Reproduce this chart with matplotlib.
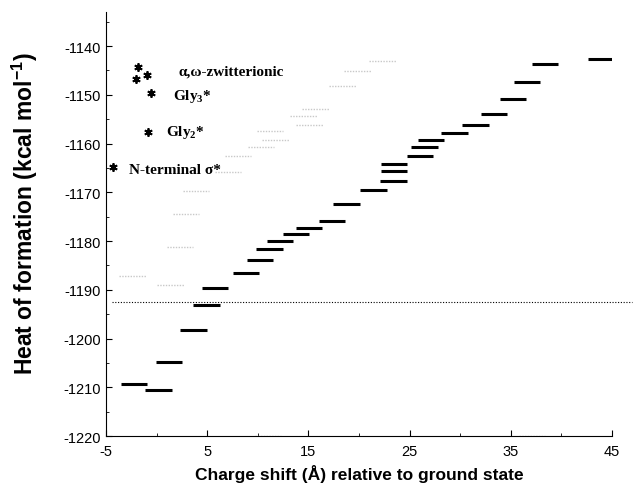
import numpy as np
import matplotlib.pyplot as plt
from matplotlib.ticker import MultipleLocator

plt.rcParams['axes.unicode_minus'] = False
plt.rcParams['mathtext.default'] = 'regular'

# black levels: charge shift (centre of dash) and heat of formation
shift = [-2.23, 0.19, 1.23, 3.65, 4.93, 5.77, 8.83, 10.22, 11.16, 12.19,
         13.77, 15.06, 17.33, 18.76, 21.43, 23.46, 23.46, 23.41, 26.03, 26.47,
         27.11, 29.44, 31.51, 33.34, 35.22, 36.60, 38.38, 43.91]
heat = [-1209.3, -1210.5, -1204.8, -1198.3, -1193.1, -1189.7, -1186.6, -1183.9,
        -1181.6, -1180.0, -1178.6, -1177.3, -1175.9, -1172.4, -1169.5, -1164.2,
        -1165.6, -1167.7, -1162.6, -1160.7, -1159.3, -1157.8, -1156.2, -1154.0,
        -1150.9, -1147.3, -1143.7, -1142.7]

# faint grey levels
shift_grey = [19.85, 22.32, 18.37, 15.70, 14.52, 15.11, 11.21, 11.75, 10.32,
              8.04, 7.06, 3.89, 2.91, 2.31, -2.38, 1.37, 11.0, 37.1]
heat_grey = [-1145.1, -1143.1, -1148.2, -1152.9, -1154.4, -1156.2, -1157.4,
             -1159.3, -1160.7, -1162.6, -1165.8, -1169.8, -1174.4, -1181.2,
             -1187.2, -1189.0, -1220.0, -1220.0]

# asterisk points
star_x = [-4.31, -0.85, -0.55, -1.84, -2.04, -0.95]
star_y = [-1164.8, -1157.6, -1149.6, -1144.3, -1146.8, -1146.0]

labels = ['α,ω-zwitterionic', 'Gly$_3$*', 'Gly$_2$*', 'N-terminal σ*']
label_x = [2.2, 1.6, 0.9, -2.7]
label_y = [-1145.1, -1150.2, -1157.6, -1165.3]

ground = -1192.5
hw = 1.31

fig = plt.figure(figsize=(6.41, 4.89), dpi=100)
ax = fig.add_axes([0.1654, 0.1063, 0.7894, 0.8671])

ax.hlines(heat_grey, np.array(shift_grey) - hw, np.array(shift_grey) + hw,
          colors='#c8c8c8', linestyles=(0, (1, 1)), lw=1.0)
ax.hlines(heat, np.array(shift) - hw, np.array(shift) + hw, colors='black', lw=2.2)
ax.plot([-4.4, 47], [ground, ground], ls=(0, (1, 1.5)), color='black', lw=0.8, clip_on=False)
ax.plot(star_x, star_y, ls='none', marker=(6, 2, 0), color='black', ms=6, mew=1.3)

for t, x, y in zip(labels, label_x, label_y):
    ax.text(x, y, t, family='Liberation Serif', fontweight='bold', fontsize=11,
            va='center', ha='left')

ax.set_xlim(-5, 45)
ax.set_ylim(-1220, -1133)
ax.set_xticks(np.arange(-5, 46, 10))
ax.set_yticks(np.arange(-1220, -1139, 10))
ax.xaxis.set_minor_locator(MultipleLocator(5))
ax.yaxis.set_minor_locator(MultipleLocator(5))
ax.tick_params(which='major', direction='in', length=4, width=0.8, labelsize=10.5)
ax.tick_params(which='minor', direction='in', length=2, width=0.6)
ax.tick_params(axis='x', pad=6)
for t in ax.get_xticklabels() + ax.get_yticklabels():
    t.set_family('Liberation Sans')

ax.spines['top'].set_visible(False)
ax.spines['right'].set_visible(False)

ax.set_xlabel('Charge shift (Å) relative to ground state', family='Liberation Sans',
              fontweight='bold', fontsize=12.5, labelpad=4)
ax.set_ylabel('Heat of formation (kcal mol$^{-1}$)', family='Liberation Sans',
              fontweight='bold', fontsize=16.5)
ax.yaxis.set_label_coords(-0.13, 0.526)

fig.savefig('out.png', dpi=100)
